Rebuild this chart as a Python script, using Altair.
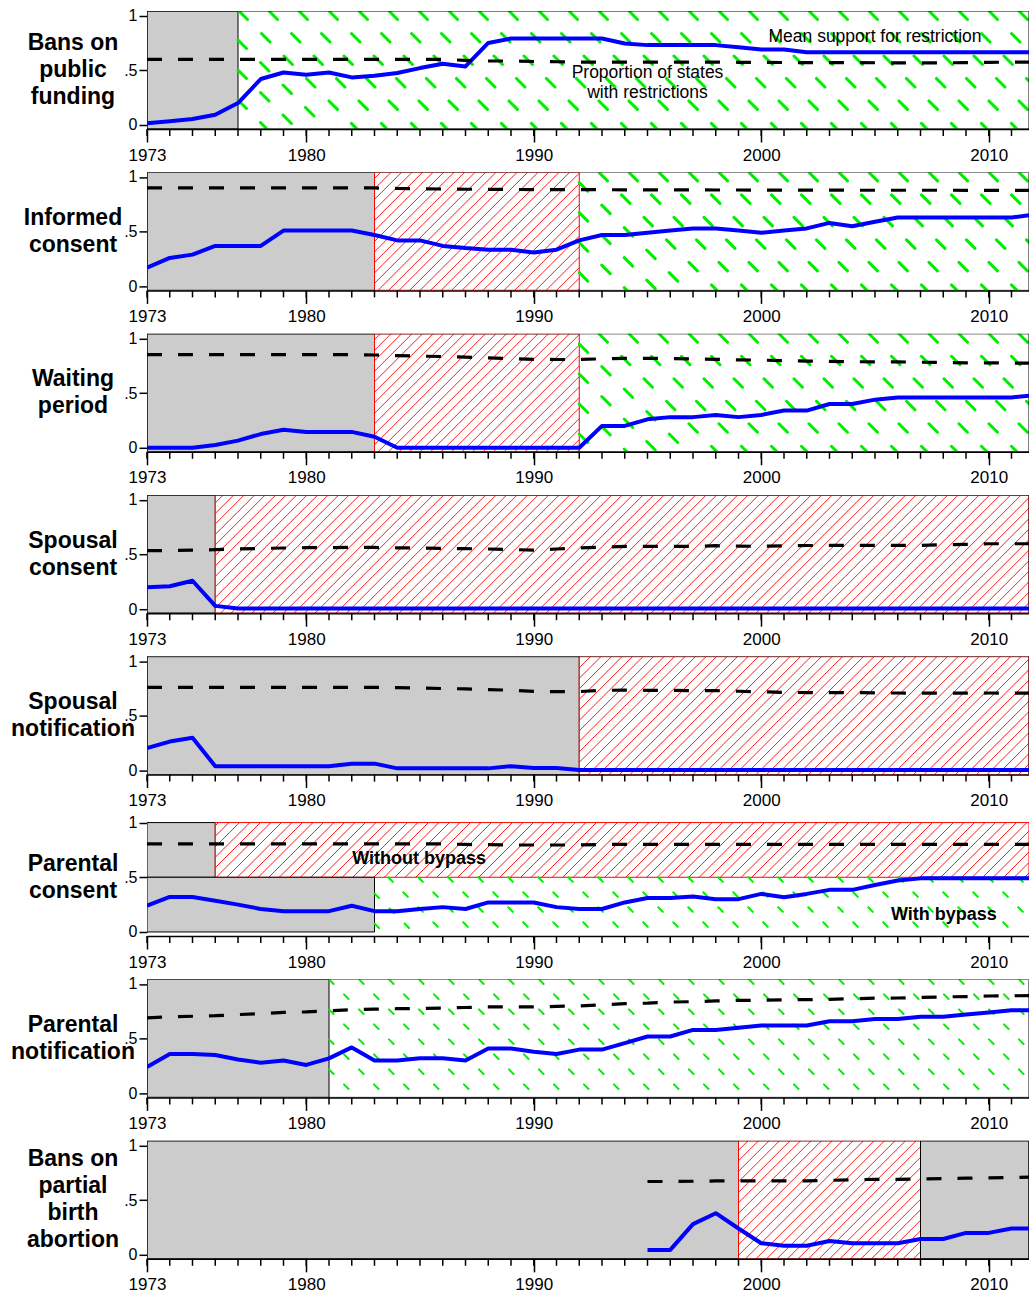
import altair as alt
import pandas as pd

FONT = "Liberation Sans"

YEARS = list(range(1973, 2013))
PBA_YEARS = list(range(1995, 2013))
LABEL_YEARS = [1973, 1980, 1990, 2000, 2010]

TITLES = [
    "Bans on\npublic\nfunding",
    "Informed\nconsent",
    "Waiting\nperiod",
    "Spousal\nconsent",
    "Spousal\nnotification",
    "Parental\nconsent",
    "Parental\nnotification",
    "Bans on\npartial\nbirth\nabortion",
]

# Proportion of states with the restriction in force (solid blue)
states_funding = [.015, .033, .055, .094, .20, .42, .48, .46, .48, .435,
                  .45, .475, .52, .56, .535, .75, .79, .79, .79, .79,
                  .79, .745, .73, .73, .73, .73, .71, .69, .69, .665,
                  .665, .665, .665, .665, .665, .665, .665, .665, .665, .665]
states_informed = [.17, .26, .29, .37, .37, .37, .51, .51, .51, .51,
                   .47, .42, .42, .37, .35, .335, .335, .31, .335, .42,
                   .47, .47, .49, .51, .53, .53, .51, .49, .51, .53,
                   .58, .55, .59, .63, .63, .63, .63, .63, .63, .655]
states_waiting = [0, 0, 0, .025, .065, .125, .165, .145, .145, .145,
                  .10, 0, 0, 0, 0, 0, 0, 0, 0, 0,
                  .20, .20, .26, .28, .28, .30, .28, .30, .34, .34,
                  .40, .40, .44, .46, .46, .46, .46, .46, .46, .48]
states_sp_consent = [.20, .21, .26, .03] + [.005] * 36
states_sp_notif = ([.205, .265, .30] + [.04] * 6 + [.063, .063] + [.02] * 5
                   + [.04, .023, .023] + [.004] * 21)
states_par_consent = [.24, .32, .32, .285, .25, .21, .19, .19, .19, .24,
                      .19, .19, .21, .227, .21, .27, .27, .27, .227, .21,
                      .21, .27, .31, .31, .324, .30, .30, .348, .318, .348,
                      .385, .385, .43, .47, .49, .49, .49, .49, .49, .49]
states_par_notif = [.24, .36, .36, .35, .31, .28, .30, .26, .32, .42,
                    .30, .30, .32, .32, .30, .41, .41, .38, .36, .40,
                    .40, .46, .52, .52, .58, .58, .60, .62, .62, .62,
                    .66, .66, .68, .68, .70, .70, .72, .74, .76, .76]
states_pba = [.044, .044, .28, .38, .24, .105, .083, .083, .125, .105,
              .105, .105, .144, .144, .20, .20, .24, .24]

# Mean public support for the restriction (dashed black)
support_funding = ([.60] * 14 + [.59, .585, .585, .58]
                   + [.578, .575, .575, .575, .575, .575, .575, .575, .573]
                   + [.572, .571, .570, .570, .570, .569, .568, .568, .568, .570, .572, .575, .575])
support_informed = ([.90] * 11 + [.895, .893, .89, .888, .887, .886, .885, .885, .885]
                    + [.884, .883, .883, .882, .882, .881, .881, .880, .880, .880,
                       .880, .879, .879, .879, .879, .879, .878, .878, .878, .878])
support_waiting = ([.852] * 10
                   + [.848, .842, .838, .834, .828, .822, .816, .809, .807, .807,
                      .813, .818, .818, .816, .812, .808, .804, .801, .797, .793,
                      .79, .787, .785, .785, .782, .779, .776, .776, .775, .773])
support_sp_consent = [.535, .535, .54, .544, .55, .555, .559, .562, .563, .565,
                      .564, .561, .559, .556, .553, .55, .545, .54, .55, .56,
                      .567, .574, .574, .574, .574, .58, .577, .574, .58, .582,
                      .583, .583, .583, .583, .583, .59, .592, .598, .598, .598]
support_sp_notif = ([.761] * 11 + [.758, .755, .75, .747, .74, .735, .724, .722, .722]
                    + [.734, .735, .734, .733, .731, .731, .725, .72, .715, .713,
                       .713, .713, .71, .709, .708, .708, .708, .709, .708, .707])
support_par_consent = [.805] * 14 + [.80, .798, .795, .795, .795, .795] + [.80] * 20
support_par_notif = [.69, .70, .705, .71, .72, .73, .74, .745, .755, .765,
                     .77, .774, .777, .78, .785, .79, .79, .79, .795, .80,
                     .81, .82, .825, .835, .838, .845, .85, .852, .855, .857,
                     .86, .865, .87, .872, .877, .882, .885, .89, .892, .895]
support_pba = [.67, .67, .672, .675, .676, .676, .675, .676, .68, .686,
               .69, .69, .692, .696, .70, .703, .706, .71]

STATES = [states_funding, states_informed, states_waiting, states_sp_consent,
          states_sp_notif, states_par_consent, states_par_notif, states_pba]
SUPPORT = [support_funding, support_informed, support_waiting, support_sp_consent,
           support_sp_notif, support_par_consent, support_par_notif, support_pba]
SERIES_YEARS = [YEARS] * 7 + [PBA_YEARS]

# Court regime periods: "none" = no restriction allowed, "red" = struck down,
# "green" = upheld; band picks the vertical extent of the shaded block.
REGIMES = [
    [("none", 1973, 1977, "full"), ("green", 1977, None, "full")],
    [("none", 1973, 1983, "full"), ("red", 1983, 1992, "full"), ("green", 1992, None, "full")],
    [("none", 1973, 1983, "full"), ("red", 1983, 1992, "full"), ("green", 1992, None, "full")],
    [("none", 1973, 1976, "full"), ("red", 1976, None, "full")],
    [("none", 1973, 1992, "full"), ("red", 1992, None, "full")],
    [("none", 1973, 1976, "upper"), ("red", 1976, None, "upper"),
     ("none", 1973, 1983, "lower"), ("green", 1983, None, "lower")],
    [("none", 1973, 1981, "full"), ("green", 1981, None, "full")],
    [("none", 1973, 1999, "full"), ("red", 1999, 2007, "full"), ("none", 2007, None, "full")],
]
THIN_GREEN = {5, 6}
NO_FRAME = {5}

# ---- geometry -------------------------------------------------------------
W, H = 882, 118
PX_PER_YEAR = 22.75
X0, X1 = 1973, 1973 + W / PX_PER_YEAR
Y0, Y1 = -0.037, 1.042
PX_PER_UNIT = H / (Y1 - Y0)
BANDS = {"full": (Y0, Y1), "upper": (0.5, 1.0), "lower": (0.0, 0.5)}
TITLE_LINE = 27

XAX = alt.Axis(values=LABEL_YEARS, format="d", tickSize=13, tickWidth=1.5,
               tickColor="black", domainColor="black", domainWidth=1.5,
               labelFontSize=17, labelFont=FONT, labelColor="black",
               labelPadding=5, labelFlush=False, labelOverlap=False,
               grid=False, title=None)
YAX = alt.Axis(values=[0, 0.5, 1],
               labelExpr="datum.value == 0.5 ? '.5' : (datum.value == 1 ? '1' : '0')",
               tickSize=8, tickWidth=1.5, tickColor="black", domain=False,
               labelFontSize=16, labelFont=FONT, labelColor="black",
               labelPadding=2, grid=False, title=None)
XS = alt.Scale(domain=[X0, X1], nice=False, zero=False)
YS = alt.Scale(domain=[Y0, Y1], nice=False, zero=False)


def enc_box():
    return dict(x=alt.X("x:Q", scale=XS, axis=XAX), x2="x2:Q",
                y=alt.Y("y:Q", scale=YS, axis=YAX), y2="y2:Q")


def hatch(x0, x1, y0, y1, step, direction, slope):
    """Parallel lines clipped to a block; direction -1 draws '\\', +1 draws '/'.

    step is the horizontal gap between lines in pixels, slope is in pixels.
    Each segment starts at its upper-left end so dash patterns begin at the edge.
    """
    rx0, rx1 = (x0 - X0) * PX_PER_YEAR, (x1 - X0) * PX_PER_YEAR
    ry0, ry1 = (y0 - Y0) * PX_PER_UNIT, (y1 - Y0) * PX_PER_UNIT
    bstep = step * slope
    rows = []
    if direction < 0:
        bmin, bmax = ry0 + slope * rx0, ry1 + slope * rx1
    else:
        bmin, bmax = ry0 - slope * rx1, ry1 - slope * rx0
    k = int(bmin // bstep) - 1
    while k * bstep <= bmax + bstep:
        b = k * bstep
        if direction < 0:
            xa = max(rx0, (b - ry1) / slope)
            xb = min(rx1, (b - ry0) / slope)
            ya, yb = b - slope * xa, b - slope * xb
        else:
            xa = max(rx0, (ry0 - b) / slope)
            xb = min(rx1, (ry1 - b) / slope)
            ya, yb = b + slope * xa, b + slope * xb
        if xb - xa > 0.3:
            rows.append({"x": X0 + xa / PX_PER_YEAR, "x2": X0 + xb / PX_PER_YEAR,
                         "y": Y0 + ya / PX_PER_UNIT, "y2": Y0 + yb / PX_PER_UNIT})
        k += 1
    return pd.DataFrame(rows)


def block(x0, x1, y0, y1):
    return pd.DataFrame([{"x": x0, "x2": x1, "y": y0, "y2": y1}])


def panel(i):
    layers = []
    for kind, start, end, band in REGIMES[i]:
        x1 = X1 if end is None else end
        lo, hi = BANDS[band]
        if kind == "none":
            layers.append(alt.Chart(block(start, x1, lo, hi)).mark_rect(
                fill="#CCCCCC", stroke="black", strokeWidth=1, clip=True).encode(**enc_box()))
        elif kind == "red":
            layers.append(alt.Chart(block(start, x1, lo, hi)).mark_rect(
                fill="white", clip=True).encode(**enc_box()))
            layers.append(alt.Chart(hatch(start, x1, lo, hi, 10.5, 1, 1.0)).mark_rule(
                color="#FF0000", strokeWidth=0.9, clip=True).encode(**enc_box()))
            layers.append(alt.Chart(block(start, x1, lo, hi)).mark_rect(
                fill="white", fillOpacity=0, stroke="#FF0000", strokeWidth=1,
                clip=True).encode(**enc_box()))
        else:
            thin = i in THIN_GREEN
            layers.append(alt.Chart(hatch(start, x1, lo, hi, 30, -1, 1.0)).mark_rule(
                color="#00EE00", strokeWidth=2 if thin else 3,
                strokeDash=[6.5, 14.7] if thin else [12, 19.8],
                strokeCap="round", clip=True).encode(**enc_box()))
    if i not in NO_FRAME:
        layers.append(alt.Chart(block(X0, X1, Y0, Y1)).mark_rect(
            fill="white", fillOpacity=0, stroke="black", strokeWidth=1,
            clip=True).encode(**enc_box()))

    yrs = SERIES_YEARS[i]
    states = pd.DataFrame({"x": yrs, "y": STATES[i]})
    support = pd.DataFrame({"x": yrs, "y": SUPPORT[i]})
    layers.append(alt.Chart(states).mark_line(
        color="#0000FF", strokeWidth=4, strokeJoin="round", clip=True).encode(
        x=alt.X("x:Q", scale=XS, axis=XAX), y=alt.Y("y:Q", scale=YS, axis=YAX)))
    layers.append(alt.Chart(support).mark_line(
        color="black", strokeWidth=3.2, strokeDash=[15, 16], clip=True).encode(
        x=alt.X("x:Q", scale=XS, axis=XAX), y=alt.Y("y:Q", scale=YS, axis=YAX)))

    # minor year ticks under the axis line
    layers.append(alt.Chart(pd.DataFrame({"x": YEARS[:-1]})).mark_rule(
        color="black", strokeWidth=1.5).encode(
        x=alt.X("x:Q", scale=XS, axis=XAX), y=alt.value(H), y2=alt.value(H + 7)))

    # row title on the left, block centred on the panel
    n_lines = TITLES[i].count("\n") + 1
    layers.append(alt.Chart(pd.DataFrame({"t": [TITLES[i]]})).mark_text(
        font=FONT, fontSize=23, fontWeight="bold", lineBreak="\n", lineHeight=TITLE_LINE,
        align="center", baseline="middle", color="black").encode(
        text="t:N", x=alt.value(-74),
        y=alt.value(H / 2 - (n_lines - 1) * TITLE_LINE / 2)))

    if i == 0:
        notes = pd.DataFrame({
            "x": [2005.0, 1995.0],
            "y": [0.808, 0.478],
            "t": ["Mean support for restriction", "Proportion of states\nwith restrictions"],
        })
        layers.append(alt.Chart(notes).mark_text(
            font=FONT, fontSize=17.5, lineBreak="\n", lineHeight=20,
            align="center", baseline="middle", color="black").encode(
            x=alt.X("x:Q", scale=XS, axis=XAX), y=alt.Y("y:Q", scale=YS, axis=YAX),
            text="t:N"))
        # fixes the page origin so the plot starts at the intended offset
        layers.append(alt.Chart(pd.DataFrame({"a": [0]})).mark_rule(
            color="white", strokeWidth=1).encode(
            x=alt.value(-146), x2=alt.value(-145), y=alt.value(-10.2)))
    if i == 5:
        notes = pd.DataFrame({
            "x": [1984.96, 2008.03],
            "y": [0.666, 0.158],
            "t": ["Without bypass", "With bypass"],
        })
        layers.append(alt.Chart(notes).mark_text(
            font=FONT, fontSize=18, fontWeight="bold",
            align="center", baseline="middle", color="black").encode(
            x=alt.X("x:Q", scale=XS, axis=XAX), y=alt.Y("y:Q", scale=YS, axis=YAX),
            text="t:N"))

    return alt.layer(*layers).properties(width=W, height=H)


chart = alt.vconcat(*[panel(i) for i in range(8)], spacing=161.4 - H, bounds="flush")
chart = chart.properties(padding=0).configure_view(stroke=None).configure_text(font=FONT)

chart.save("out.html", embed_options={"renderer": "svg", "actions": False})
